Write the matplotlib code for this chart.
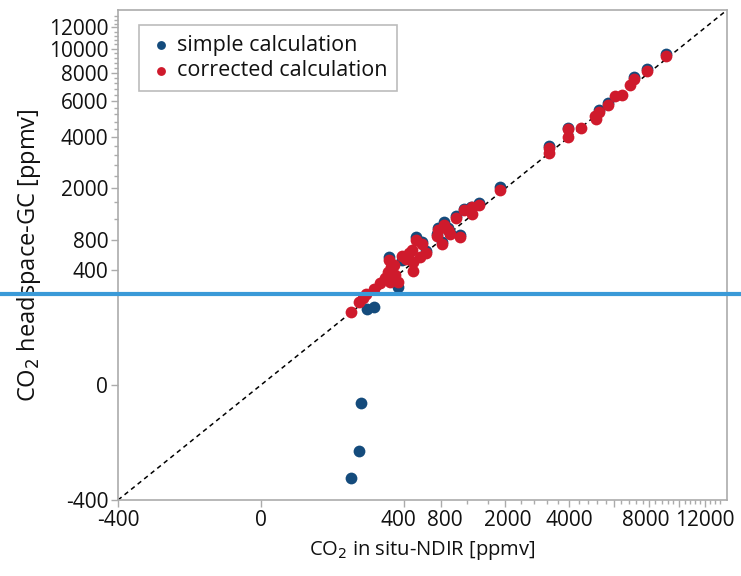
import numpy as np
import matplotlib
matplotlib.use("Agg")
import matplotlib.pyplot as plt
from matplotlib.ticker import FixedLocator
from matplotlib.transforms import ScaledTranslation

# --- data (ppmv) ---
corr_x = [9090, 7890, 7100, 6850, 6440, 6090, 5700, 5270, 5110, 5160,
          4480, 3960, 3960, 3280, 3280,
          1870, 1410, 1280, 1260, 1140, 1280, 1010, 840, 760, 900,
          930, 1080, 740, 810, 570, 620, 550,
          510, 470, 420, 480, 480, 440, 380, 320,
          290, 300, 280, 330, 260, 355, 295, 230, 195, 160, 147, 130, 100]
corr_y = [9330, 8120, 7510, 7110, 6380, 6310, 5760, 5330, 5090, 4940,
          4450, 4420, 4000, 3510, 3280,
          1960, 1540, 1480, 1440, 1400, 1320, 1230, 1080, 970, 970,
          900, 850, 870, 730, 740, 600, 550,
          800, 640, 530, 490, 390, 600, 560, 450,
          510, 430, 380, 350, 320, 290, 290, 275, 230, 200, 170, 150, 100]

simple_x = [9090, 7890, 7100, 5700, 5270, 3960, 3280,
            1870, 1410, 1260, 1140, 1010, 840, 760, 900, 930, 1080, 740, 810, 570, 620,
            511, 382, 290, 355, 198, 165, 137, 129, 99]
simple_y = [9500, 8250, 7700, 5900, 5450, 4480, 3580,
            2040, 1590, 1490, 1440, 1270, 1130, 1010, 1020, 930, 880, 900, 760, 775, 630,
            850, 511, 545, 245, 126, 113, -1.5, -75, -212]

line_level = 197          # horizontal marker line (ppmv)
diag = [-400, 13850]      # 1:1 line end points
ax_lim = (-400, 13850)

x_ticks = [-400, 0, 400, 800, 2000, 4000, 6000, 8000, 10000, 12000]
x_labels = ['-400', '0', '400', '800', '2000', '4000', '', '8000', '', '12000']
y_ticks = [-400, 0, 400, 800, 2000, 4000, 6000, 8000, 10000, 12000]
y_labels = ['-400', '0', '400', '800', '2000', '4000', '6000', '8000', '10000', '12000']
minor_ticks = list(range(400, 13600, 400))
# small horizontal nudges (px) of crowded x labels
x_nudge = {'400': -6, '800': 4, '2000': 2, '8000': -3}

blue = '#144b7c'
red = '#cf1a2c'
grey = '#ababab'
ink = '#111111'

plt.rcParams['font.family'] = ['Open Sans', 'DejaVu Sans']


def fwd(v):
    v = np.asarray(v, dtype=float)
    return np.sign(v) * np.abs(v) ** (1 / 3)


def inv(v):
    v = np.asarray(v, dtype=float)
    return np.sign(v) * np.abs(v) ** 3


fig = plt.figure(figsize=(7.41, 5.76), dpi=100)
ax = fig.add_axes([118 / 741, 1 - 500 / 576, 609 / 741, 490 / 576])
ax.set_xscale('function', functions=(fwd, inv))
ax.set_yscale('function', functions=(fwd, inv))
ax.set_xlim(*ax_lim)
ax.set_ylim(*ax_lim)

ax.plot(diag, diag, color='black', ls=(0, (3, 2.5)), lw=1.1, zorder=1)
ax.scatter(simple_x, simple_y, s=72, color=blue, lw=0, zorder=2,
           label='simple calculation')
ax.scatter(corr_x, corr_y, s=72, color=red, lw=0, zorder=3,
           label='corrected calculation')

ax.axhline(line_level, xmin=-0.2, xmax=1.05, color='#3a9ad8', lw=3,
           clip_on=False, zorder=5)

for sp in ax.spines.values():
    sp.set_color(grey)
    sp.set_linewidth(1.2)

ax.xaxis.set_major_locator(FixedLocator(x_ticks))
ax.set_xticklabels(x_labels)
ax.yaxis.set_major_locator(FixedLocator(y_ticks))
ax.set_yticklabels(y_labels)
ax.xaxis.set_minor_locator(FixedLocator(minor_ticks))
ax.yaxis.set_minor_locator(FixedLocator(minor_ticks))
ax.tick_params(which='major', length=5, width=1, color=grey,
               labelsize=15, labelcolor=ink, pad=2)
ax.tick_params(which='minor', length=3, width=1, color=grey)

for lab in ax.get_xticklabels():
    dx = x_nudge.get(lab.get_text(), 0)
    if dx:
        lab.set_transform(lab.get_transform() +
                          ScaledTranslation(dx / 100, 0, fig.dpi_scale_trans))

ax.set_xlabel('CO$_2$ in situ-NDIR [ppmv]', fontsize=14.5, color=ink,
              labelpad=6)
ax.set_ylabel('CO$_2$ headspace-GC [ppmv]', fontsize=17, color=ink,
              labelpad=4)

leg = ax.legend(loc='upper left', bbox_to_anchor=(0.0345, 0.969),
                borderaxespad=0, fancybox=False, frameon=True,
                fontsize=15.5, handletextpad=0.2, markerscale=0.75,
                borderpad=0.45, labelspacing=0.2, handlelength=1.1)
leg.get_frame().set_edgecolor(grey)
leg.get_frame().set_linewidth(1.2)
for t in leg.get_texts():
    t.set_color(ink)

fig.savefig('out.png', dpi=100)
